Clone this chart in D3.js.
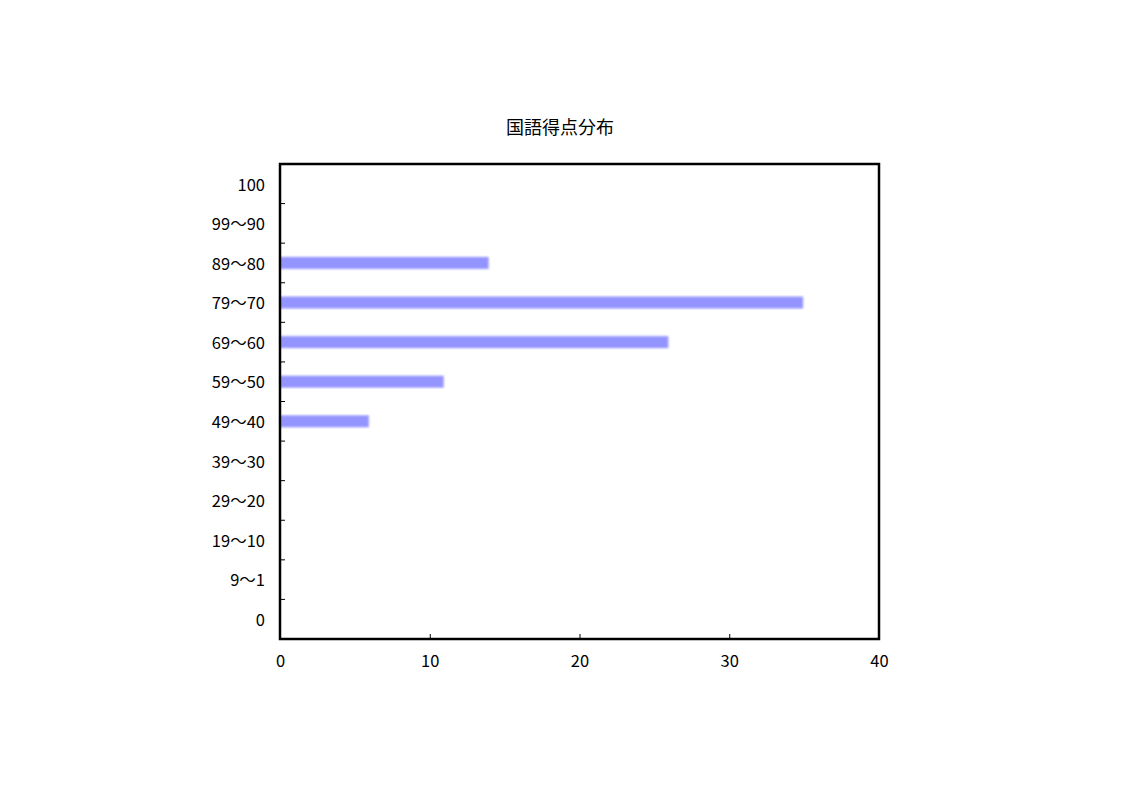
<!DOCTYPE html>
<html lang="ja">
<head>
    <meta charset="utf-8">
    <title>国語得点分布</title>
    <script src="https://d3js.org/d3.v7.min.js"></script>
    <style>
        body { margin: 0; background: #fff; }
        text { font-family: "Noto Sans CJK JP", "Noto Sans", sans-serif; fill: #000; }
    </style>
</head>
<body>
<script>
    // score ranges, top to bottom
    const categories = ["100", "99～90", "89～80", "79～70", "69～60", "59～50",
                        "49～40", "39～30", "29～20", "19～10", "9～1", "0"];
    // number of students in each range
    const counts = [0, 0, 14, 35, 26, 11, 6, 0, 0, 0, 0, 0];
    const xTicks = [0, 10, 20, 30, 40];

    const W = 1123, H = 794;
    const margin = {top: 164, right: 244, bottom: 155, left: 280};
    const width = W - margin.left - margin.right;
    const height = H - margin.top - margin.bottom;

    const svg = d3.select("body").append("svg")
        .attr("width", W)
        .attr("height", H);

    // soft edge on the bars
    svg.append("defs").append("filter")
        .attr("id", "soft")
        .append("feGaussianBlur")
        .attr("stdDeviation", 0.9);

    svg.append("text")
        .attr("x", 560)
        .attr("y", 134)
        .attr("text-anchor", "middle")
        .attr("font-size", 18)
        .text("国語得点分布");

    const g = svg.append("g")
        .attr("transform", "translate(" + margin.left + "," + margin.top + ")");

    const x = d3.scaleLinear().domain([0, 40]).range([0, width]);
    const y = d3.scaleBand().domain(categories).range([0, height]);

    // bars
    const data = categories.map((c, i) => ({cat: c, v: counts[i]}));
    g.selectAll(".bar")
        .data(data.filter(d => d.v > 0))
        .enter().append("rect")
        .attr("class", "bar")
        .attr("x", x(0))
        .attr("y", d => y(d.cat) + y.bandwidth() / 2 - 6)
        .attr("width", d => x(d.v) - x(0) - 1)
        .attr("height", 12)
        .attr("fill", "#9494ff")
        .attr("filter", "url(#soft)");

    // y axis labels and inward ticks between categories
    const yAxis = g.append("g");
    yAxis.selectAll("text")
        .data(categories)
        .enter().append("text")
        .attr("x", -15)
        .attr("y", d => y(d) + y.bandwidth() / 2 + 1)
        .attr("dy", "0.35em")
        .attr("text-anchor", "end")
        .attr("font-size", 16.5)
        .text(d => d);
    yAxis.selectAll("line")
        .data(categories.slice(1))
        .enter().append("line")
        .attr("x1", 0).attr("x2", 5)
        .attr("y1", d => y(d)).attr("y2", d => y(d))
        .attr("stroke", "#000")
        .attr("stroke-width", 1);

    // x axis, ticks pointing inward
    const xAxis = g.append("g")
        .attr("transform", "translate(0," + height + ")")
        .call(d3.axisBottom(x).tickValues(xTicks).tickSizeInner(-5).tickSizeOuter(0).tickPadding(16));
    xAxis.select(".domain").remove();
    xAxis.selectAll("text")
        .attr("font-size", 16.5)
        .attr("font-family", "\"Noto Sans CJK JP\", sans-serif");
    xAxis.selectAll("line").attr("stroke", "#000");

    // frame
    g.append("rect")
        .attr("x", 0).attr("y", 0)
        .attr("width", width).attr("height", height)
        .attr("fill", "none")
        .attr("stroke", "#000")
        .attr("stroke-width", 2.5);
</script>
</body>
</html>
